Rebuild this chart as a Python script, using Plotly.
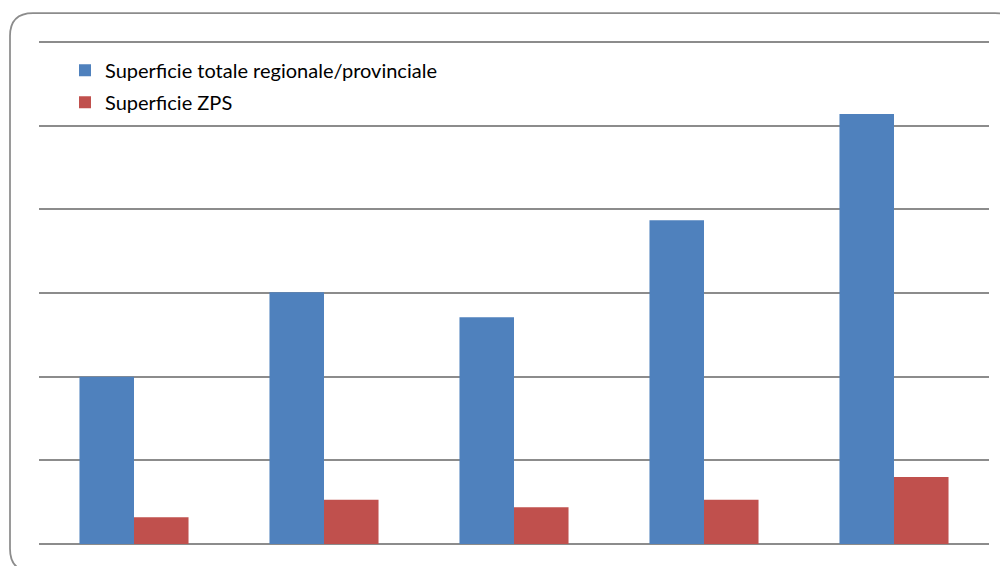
import plotly.graph_objects as go

categories = ["1", "2", "3", "4", "5"]
superficie_totale = [2.0, 3.01, 2.71, 3.87, 5.14]
superficie_zps = [0.32, 0.53, 0.44, 0.53, 0.80]
series_names = ["Superficie totale regionale/provinciale", "Superficie ZPS"]
colors = ["#4F81BD", "#C0504D"]

fig = go.Figure()
fig.add_trace(go.Bar(x=categories, y=superficie_totale, name=series_names[0],
                     marker=dict(color=colors[0], line=dict(width=0)), legendgroup="a"))
fig.add_trace(go.Bar(x=categories, y=superficie_zps, name=series_names[1],
                     marker=dict(color=colors[1], line=dict(width=0)), legendgroup="b"))

# page has an 8px body margin; figure coords = page coords - 8
OFF = 8
FW, FH = 1008 - OFF, 566 - OFF
X0, X1 = 39 - OFF, 989 - OFF
YMAX = 6.06
Y0 = 544.3 - OFF                      # baseline (value 0)
UNIT = (544.3 - 42.3) / 6.0           # px per unit
Y1 = Y0 - UNIT * YMAX                 # top of plot area
W, H = X1 - X0, Y0 - Y1

def px(x):
    return (x - OFF - X0) / W
def py(y):
    return (Y0 - (y - OFF)) / H

# border (page coords)
L, T, R, B, r = 10, 13.3, 1018, 572, 23
path = (
    f"M {px(L)},{py(T + r)} "
    f"Q {px(L)},{py(T)} {px(L + r)},{py(T)} "
    f"L {px(R - r)},{py(T)} "
    f"Q {px(R)},{py(T)} {px(R)},{py(T + r)} "
    f"L {px(R)},{py(B - r)} "
    f"Q {px(R)},{py(B)} {px(R - r)},{py(B)} "
    f"L {px(L + r)},{py(B)} "
    f"Q {px(L)},{py(B)} {px(L)},{py(B - r)} Z"
)

# gridline at top value drawn as a horizontal line in data coords (edge gridlines are dropped)
fig.update_layout(
    width=FW, height=FH,
    margin=dict(l=X0, r=FW - X1, t=Y1, b=FH - Y0, pad=0),
    paper_bgcolor="white", plot_bgcolor="white",
    barmode="group", bargap=0.426, bargroupgap=0,
    font=dict(family="Lato, Calibri, Arial, sans-serif", size=20, color="#000000"),
    showlegend=True,
    legend=dict(x=px(65), y=py(51), xanchor="left", yanchor="top",
                bgcolor="rgba(0,0,0,0)", tracegroupgap=3,
                traceorder="grouped", font=dict(size=20)),
    shapes=[dict(type="path", xref="paper", yref="paper", path=path,
                 line=dict(color="#8C8C8C", width=1.75), fillcolor="rgba(0,0,0,0)",
                 layer="above")],
)
fig.update_xaxes(showticklabels=False, showgrid=False, zeroline=False, showline=False,
                 ticks="")
fig.update_yaxes(range=[0, YMAX], tick0=0, dtick=1, showticklabels=False, showgrid=True,
                 gridcolor="#8C8C8C", gridwidth=1.75, zeroline=True,
                 zerolinecolor="#8C8C8C", zerolinewidth=1.75, showline=False, ticks="")

fig.write_html("out.html")
